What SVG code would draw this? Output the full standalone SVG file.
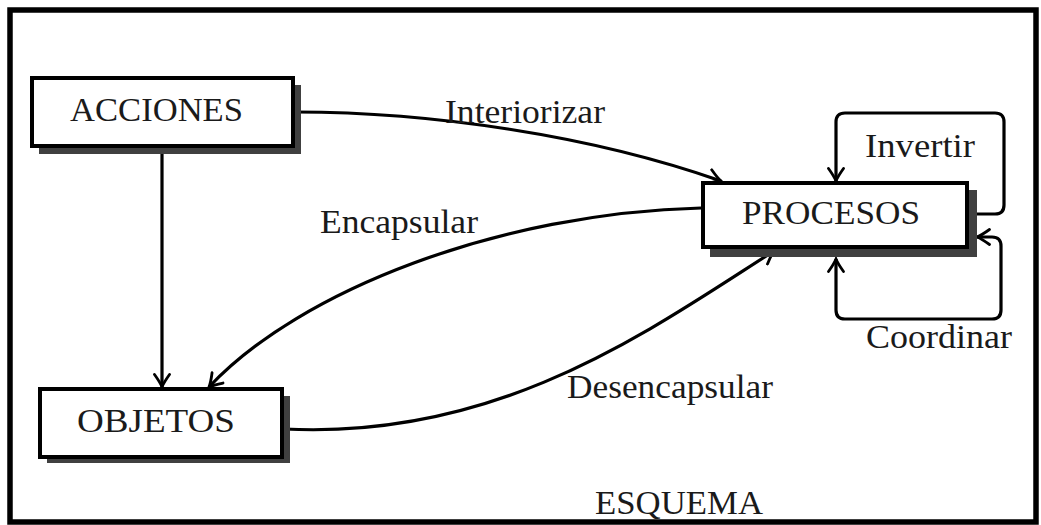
<svg xmlns="http://www.w3.org/2000/svg" width="1041" height="525" viewBox="0 0 1041 525">
<style>
.frame{fill:#fff;stroke:#000;stroke-width:5.5}
.shadow{fill:#404040}
.box{fill:#fff;stroke:#000;stroke-width:4}
.t{font-family:"Liberation Serif","DejaVu Serif",serif;font-size:33px;fill:#1a1a1a}
.edge{fill:none;stroke:#000;stroke-width:3.2}
</style>
<defs>
<marker id="ah" viewBox="-14 -9 16 18" refX="0" refY="0" markerWidth="16" markerHeight="18" markerUnits="userSpaceOnUse" orient="auto-start-reverse">
<path d="M-12.5,-7.5 Q-4.5,-1.8 0,0 Q-4.5,1.8 -12.5,7.5" fill="none" stroke="#000" stroke-width="2.8" stroke-linecap="round"/>
</marker>
</defs>
<rect class="frame" x="10" y="10" width="1026" height="512"/>
<g id="connectors">
<path class="edge" d="M162 148 L162 387" marker-end="url(#ah)"/>
<path class="edge" d="M295 112 C430 112 590 135 721 181" marker-end="url(#ah)"/>
<path class="edge" d="M701 208 C500 213 300 290 209 387" marker-end="url(#ah)"/>
<path class="edge" d="M284 429 C500 440 650 330 774 251" marker-end="url(#ah)"/>
<path class="edge" d="M969 214 L995 214 Q1004 214 1004 205 L1004 122 Q1004 113 995 113 L845 113 Q836 113 836 122 L836 181" marker-end="url(#ah)"/>
<path class="edge" d="M977 237 L992 237 Q1001 237 1001 246 L1001 310 Q1001 319 992 319 L845 319 Q836 319 836 310 L836 259" marker-start="url(#ah)" marker-end="url(#ah)"/>
<text class="t" x="445" y="123" textLength="160" lengthAdjust="spacingAndGlyphs">Interiorizar</text>
<text class="t" x="320" y="233" textLength="158" lengthAdjust="spacingAndGlyphs">Encapsular</text>
<text class="t" x="567" y="398" textLength="206" lengthAdjust="spacingAndGlyphs">Desencapsular</text>
<text class="t" x="865" y="157" textLength="110" lengthAdjust="spacingAndGlyphs">Invertir</text>
<text class="t" x="866" y="348" textLength="146" lengthAdjust="spacingAndGlyphs">Coordinar</text>
</g>
<g id="acciones">
<rect class="shadow" x="39" y="85" width="262" height="69"/>
<rect class="box" x="32" y="78" width="261" height="68"/>
<text class="t" x="70" y="121" textLength="173" lengthAdjust="spacingAndGlyphs">ACCIONES</text>
</g>
<g id="procesos">
<rect class="shadow" x="710" y="190" width="267" height="67"/>
<rect class="box" x="703" y="183" width="264" height="64"/>
<text class="t" x="742" y="224" textLength="178" lengthAdjust="spacingAndGlyphs">PROCESOS</text>
</g>
<g id="objetos">
<rect class="shadow" x="47" y="396" width="243" height="67"/>
<rect class="box" x="40" y="389" width="242" height="68"/>
<text class="t" x="77" y="432" textLength="158" lengthAdjust="spacingAndGlyphs">OBJETOS</text>
</g>
<text class="t" x="595" y="514" textLength="168" lengthAdjust="spacingAndGlyphs">ESQUEMA</text>
</svg>
